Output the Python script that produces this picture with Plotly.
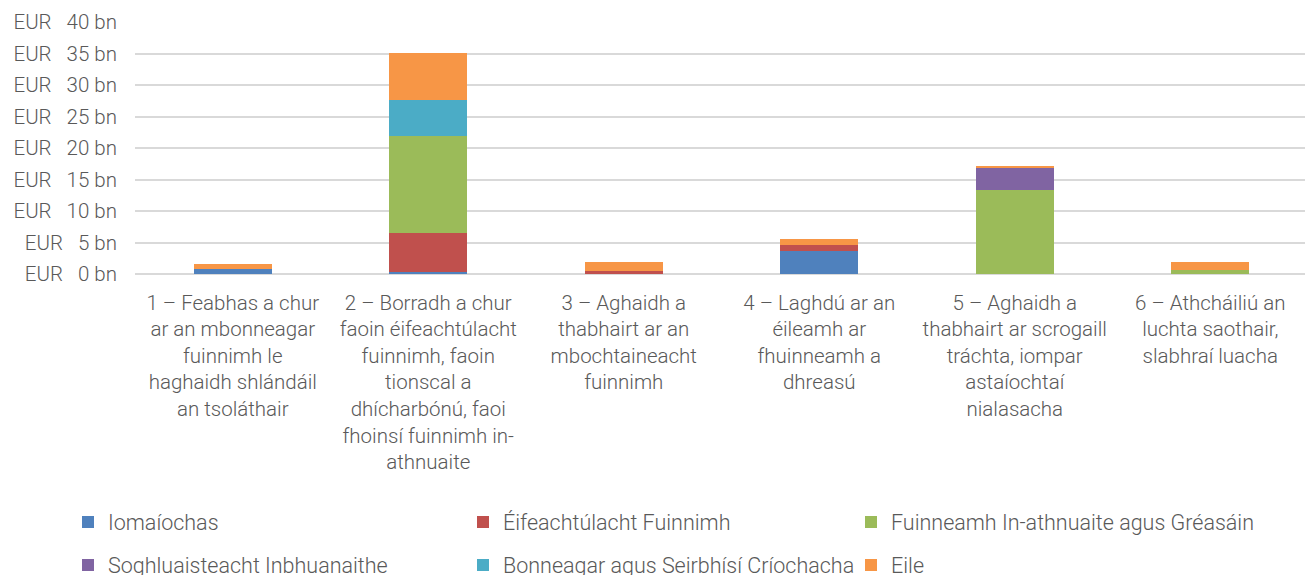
import plotly.graph_objects as go

categories = [
    "1 – Feabhas a chur<br>ar an mbonneagar<br>fuinnimh le<br>haghaidh shlándáil<br>an tsoláthair",
    "2 – Borradh a chur<br>faoin éifeachtúlacht<br>fuinnimh, faoin<br>tionscal a<br>dhícharbónú, faoi<br>fhoinsí fuinnimh in-<br>athnuaite",
    "3 – Aghaidh a<br>thabhairt ar an<br>mbochtaineacht<br>fuinnimh",
    "4 – Laghdú ar an<br>éileamh ar<br>fhuinneamh a<br>dhreasú",
    "5 – Aghaidh a<br>thabhairt ar scrogaill<br>tráchta, iompar<br>astaíochtaí<br>nialasacha",
    "6 – Athcháiliú an<br>luchta saothair,<br>slabhraí luacha",
]

series_names = [
    "Iomaíochas",
    "Éifeachtúlacht Fuinnimh",
    "Fuinneamh In-athnuaite agus Gréasáin",
    "Soghluaisteacht Inbhuanaithe",
    "Bonneagar agus Seirbhísí Críochacha",
    "Eile",
]
iomaiochas = [0.8, 0.35, 0.0, 3.65, 0.0, 0.0]
eifeachtulacht = [0.0, 6.1, 0.5, 1.0, 0.0, 0.0]
fuinneamh = [0.0, 15.5, 0.0, 0.0, 13.4, 0.7]
soghluaisteacht = [0.0, 0.0, 0.0, 0.0, 3.4, 0.0]
bonneagar = [0.0, 5.65, 0.0, 0.0, 0.0, 0.0]
eile = [0.74, 7.5, 1.4, 0.9, 0.4, 1.2]
colors = ["#4F81BD", "#C0504D", "#9BBB59", "#8064A2", "#4BACC6", "#F79646"]

tick_vals = [0, 5, 10, 15, 20, 25, 30, 35, 40]
tick_text = ["EUR\u00a0\u00a0\u00a0%d bn" % v for v in tick_vals]

W, H = 1313, 575
OFF = 8  # page offset of the figure inside the browser window
L, R, T = 135 - OFF, 13, 22 - OFF
B = H - (274 - OFF)
plot_w = W - L - R
plot_h = H - T - B

font_family = "Roboto, Open Sans, sans-serif"
font_col = "#595959"

fig = go.Figure()
legend_ids = ["legend", "legend2", "legend3", "legend4", "legend5", "legend6"]
for name, vals, col, lid in zip(series_names,
                                [iomaiochas, eifeachtulacht, fuinneamh, soghluaisteacht, bonneagar, eile],
                                colors, legend_ids):
    fig.add_trace(go.Bar(x=categories, y=vals, name=name, legend=lid,
                         marker=dict(color=col, line=dict(width=0))))

col_px = [83, 478, 866]
row_px = [522 - OFF, 565 - OFF]
legend_layout = {}
for i, lid in enumerate(legend_ids):
    cx = col_px[i % 3] - 23
    ry = row_px[i // 3]
    legend_layout[lid] = dict(
        x=(cx - L) / plot_w, xanchor="left",
        y=(T + plot_h - ry) / plot_h, yanchor="middle",
        font=dict(family=font_family, size=21.5, color=font_col, weight=300),
        bgcolor="rgba(0,0,0,0)", itemwidth=30,
    )

tf = dict(family=font_family, size=20.5, color=font_col, weight=300)
fig.update_layout(
    barmode="stack",
    bargap=0.6,
    width=W, height=H,
    paper_bgcolor="white", plot_bgcolor="white",
    margin=dict(l=L, r=R, t=T, b=B, autoexpand=False),
    font=tf,
    xaxis=dict(showgrid=False, showline=False, ticks="", tickangle=0, automargin=False,
               ticklabelstandoff=14, tickfont=tf),
    yaxis=dict(range=[0, 40], tickvals=tick_vals, ticktext=tick_text, showgrid=True,
               gridcolor="#D9D9D9", gridwidth=1.5, zeroline=True, zerolinecolor="#D9D9D9",
               zerolinewidth=2, showline=False, ticks="", automargin=False,
               ticklabelstandoff=17, tickfont=tf),
    showlegend=True,
    **legend_layout,
)
fig.write_html("out.html")
